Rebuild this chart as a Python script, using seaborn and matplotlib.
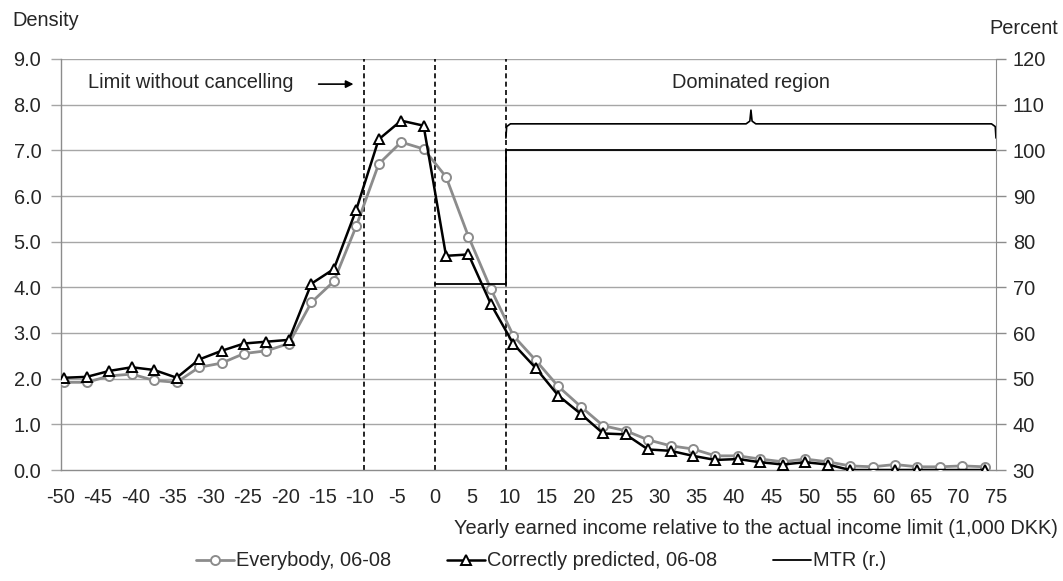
import pandas as pd
import seaborn as sns
import matplotlib.pyplot as plt
from matplotlib.lines import Line2D

# bin centres, yearly earned income relative to income limit (1,000 DKK)
income = [-49.5, -46.5, -43.5, -40.5, -37.5, -34.5, -31.5, -28.5, -25.5, -22.5,
          -19.5, -16.5, -13.5, -10.5, -7.5, -4.5, -1.5, 1.5, 4.5, 7.5,
          10.5, 13.5, 16.5, 19.5, 22.5, 25.5, 28.5, 31.5, 34.5, 37.5,
          40.5, 43.5, 46.5, 49.5, 52.5, 55.5, 58.5, 61.5, 64.5, 67.5,
          70.5, 73.5]

# density, everybody 06-08
everybody = [1.92, 1.92, 2.06, 2.10, 1.96, 1.92, 2.25, 2.34, 2.55, 2.61,
             2.77, 3.67, 4.13, 5.34, 6.70, 7.18, 7.03, 6.42, 5.11, 3.96,
             2.94, 2.40, 1.83, 1.39, 0.97, 0.86, 0.66, 0.53, 0.46, 0.31,
             0.31, 0.24, 0.18, 0.24, 0.18, 0.09, 0.07, 0.12, 0.07, 0.07,
             0.09, 0.07]

# density, correctly predicted 06-08 (None = no observation)
correct = [2.02, 2.04, 2.17, 2.25, 2.19, 2.02, 2.42, 2.61, 2.77, 2.81,
           2.85, 4.08, 4.40, 5.70, 7.24, 7.65, 7.54, 4.69, 4.72, 3.63,
           2.76, 2.23, 1.63, 1.23, 0.80, 0.78, 0.45, 0.42, 0.31, 0.22,
           0.24, 0.17, 0.12, 0.17, 0.12, 0.00, None, 0.00, 0.00, None,
           None, 0.00]

# marginal tax rate (right axis, percent)
mtr_income = [0, 9.5, 9.5, 75]
mtr_pct = [70.7, 70.7, 100, 100]

# vertical reference lines
limits = [-9.5, 0, 9.5]

x_ticks = list(range(-50, 80, 5))
left_ticks = list(range(0, 10))
right_ticks = list(range(30, 130, 10))

GRAY = '#8c8c8c'
GRID = '#a6a6a6'

sns.set_style('white')
plt.rcParams['font.family'] = ['Liberation Sans', 'DejaVu Sans']
plt.rcParams['font.size'] = 14.4

df = pd.DataFrame({'income': income, 'everybody': everybody,
                   'correct': pd.to_numeric(pd.Series(correct, dtype='float'))})
mtr = pd.DataFrame({'income': mtr_income, 'pct': mtr_pct})

W, H = 1063, 581
fig = plt.figure(figsize=(W / 100, H / 100), dpi=100)
L, R, T, B = 60.7, 996, 59, 470
ax = fig.add_axes([L / W, 1 - B / H, (R - L) / W, (B - T) / H])

# gridlines
for v in left_ticks[1:]:
    ax.axhline(v, color=GRID, lw=1, zorder=0)

# vertical dashed limits
for xv in limits:
    ax.axvline(xv, color='black', lw=1.2, ls=(0, (3, 2)), zorder=1)

sns.lineplot(data=df, x='income', y='everybody', ax=ax, color=GRAY, lw=2,
             marker='o', markersize=6.5, markerfacecolor='white',
             markeredgecolor=GRAY, markeredgewidth=1.4, legend=False, zorder=3)
sns.lineplot(data=df.dropna(subset=['correct']), x='income', y='correct', ax=ax,
             color='black', lw=1.8, marker='^', markersize=7.5,
             markerfacecolor='white', markeredgecolor='black',
             markeredgewidth=1.4, legend=False, zorder=4)

ax.set_xlim(-50, 75)
ax.set_ylim(0, 9)
ax.set_xticks(x_ticks)
ax.set_xticklabels([str(t) for t in x_ticks])
ax.set_yticks(left_ticks)
ax.set_yticklabels([f'{t:.1f}' for t in left_ticks])
ax.set_xlabel('')
ax.set_ylabel('')
ax.tick_params(axis='x', direction='out', length=7, width=1, color=GRAY, pad=6)
ax.tick_params(axis='y', direction='out', length=7, width=1, color=GRID, pad=7)
for s in ['top', 'right']:
    ax.spines[s].set_visible(False)
for s in ['left', 'bottom']:
    ax.spines[s].set_color(GRAY)
    ax.spines[s].set_linewidth(1)

# secondary axis with MTR
ax2 = ax.twinx()
sns.lineplot(data=mtr, x='income', y='pct', ax=ax2, color='black', lw=1.3,
             estimator=None, sort=False, legend=False)
ax2.set_ylim(30, 120)
ax2.set_yticks(right_ticks)
ax2.set_yticklabels([str(t) for t in right_ticks])
ax2.set_ylabel('')
ax2.tick_params(axis='y', direction='out', length=7, width=1, color=GRAY, pad=5)
for s in ['top', 'left', 'bottom']:
    ax2.spines[s].set_visible(False)
ax2.spines['right'].set_color(GRAY)

# annotations
ax.text(-46.4, 8.48, 'Limit without cancelling', ha='left', va='center')
ax.annotate('', xy=(-10.5, 8.45), xytext=(-15.9, 8.45),
            arrowprops=dict(arrowstyle='-|>', color='black', lw=1.2,
                            mutation_scale=11))
ax.text(42.25, 8.48, 'Dominated region', ha='center', va='center')

# curly bracket over dominated region
bx = [9.5, 9.6, 10.1, 41.6, 42.1, 42.25, 42.4, 42.9, 74.4, 74.9, 75.0]
by = [7.27, 7.52, 7.58, 7.58, 7.64, 7.88, 7.64, 7.58, 7.58, 7.52, 7.27]
ax.plot(bx, by, color='black', lw=1.2, clip_on=False, zorder=5)

# labels
fig.text(12 / W, 1 - 20 / H, 'Density', ha='left', va='center')
fig.text(1058 / W, 1 - 29 / H, 'Percent', ha='right', va='center')
fig.text(1058 / W, 1 - 528 / H,
         'Yearly earned income relative to the actual income limit (1,000 DKK)',
         ha='right', va='center')

handles = [
    Line2D([], [], color=GRAY, lw=2, marker='o', markersize=6.5,
           markerfacecolor='white', markeredgecolor=GRAY, markeredgewidth=1.4),
    Line2D([], [], color='black', lw=1.8, marker='^', markersize=7.5,
           markerfacecolor='white', markeredgecolor='black', markeredgewidth=1.4),
    Line2D([], [], color='black', lw=1.3),
]
labels = ['Everybody, 06-08', 'Correctly predicted, 06-08', 'MTR (r.)']
fig.legend(handles, labels, loc='center', bbox_to_anchor=(541 / W, 1 - 561 / H),
           ncol=3, frameon=False, handlelength=1.9, handletextpad=0.1,
           columnspacing=2.8, borderaxespad=0)

fig.savefig('out.png', dpi=100)
